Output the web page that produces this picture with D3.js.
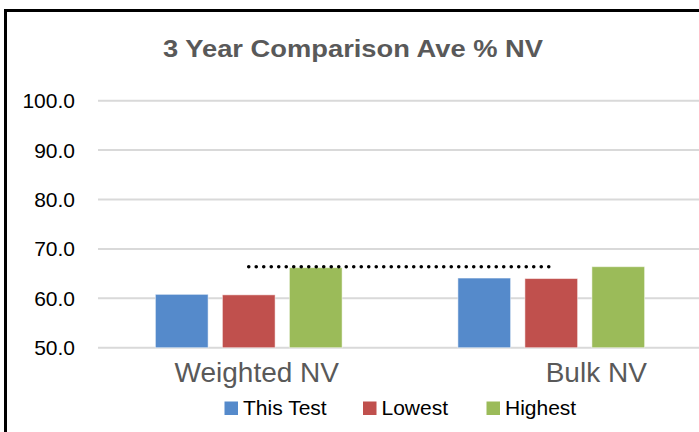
<!DOCTYPE html>
<html>
<head>
<meta charset="utf-8">
<script src="https://cdn.jsdelivr.net/npm/d3@7"></script>
<style>
  body { margin: 0; background: #fff; }
  svg { display: block; font-family: "Liberation Sans", Arial, sans-serif; }
</style>
</head>
<body>
<svg id="chart" width="699" height="432"></svg>
<script>
// ---------- data ----------
var categories = ['Weighted NV', 'Bulk NV'];
var seriesNames = ['This Test', 'Lowest', 'Highest'];
var thisTest = [60.8, 64.1];
var lowest = [60.7, 64.0];
var highest = [66.2, 66.4];
var refLine = [66.4, 66.4];          // dotted line across both categories
var yTicks = [50, 60, 70, 80, 90, 100];

var colors = { 'This Test': '#558ACB', 'Lowest': '#C0504D', 'Highest': '#9BBB59' };

var rows = categories.map(function (c, i) {
  return { cat: c, values: [thisTest[i], lowest[i], highest[i]] };
});

// ---------- frame ----------
var svg = d3.select('#chart');

svg.append('rect')
  .attr('x', 5.5).attr('y', 10.5)
  .attr('width', 720).attr('height', 460)
  .attr('fill', 'none').attr('stroke', '#000').attr('stroke-width', 3);

svg.append('text')
  .attr('x', 353).attr('y', 57)
  .attr('text-anchor', 'middle')
  .attr('font-size', 24).attr('font-weight', 'bold')
  .attr('fill', '#595959')
  .attr('textLength', 380).attr('lengthAdjust', 'spacingAndGlyphs')
  .text('3 Year Comparison Ave % NV');

// ---------- scales ----------
var y = d3.scaleLinear().domain([50, 100]).range([347.7, 100.7]);

var x0 = d3.scaleBand().domain(categories).range([97.5, 702.5]).padding(0);
var groupW = 186.7;
var x1 = d3.scaleBand().domain(seriesNames).range([0, groupW]).paddingInner(14.3 / 67).paddingOuter(0);
var groupOff = (x0.bandwidth() - groupW) / 2;

// ---------- gridlines ----------
svg.append('g')
  .selectAll('line')
  .data(yTicks)
  .join('line')
  .attr('x1', 98).attr('x2', 699)
  .attr('y1', function (d) { return y(d); })
  .attr('y2', function (d) { return y(d); })
  .attr('stroke', '#d9d9d9').attr('stroke-width', 2);

// y tick labels
svg.append('g')
  .selectAll('text')
  .data(yTicks)
  .join('text')
  .attr('x', 75)
  .attr('y', function (d) { return y(d) + 7.5; })
  .attr('text-anchor', 'end')
  .attr('font-size', 21)
  .attr('fill', '#000')
  .text(function (d) { return d3.format('.1f')(d); });

// ---------- bars ----------
var groups = svg.append('g')
  .selectAll('g')
  .data(rows)
  .join('g')
  .attr('transform', function (d) { return 'translate(' + (x0(d.cat) + groupOff) + ',0)'; });

groups.selectAll('rect')
  .data(function (d) { return d.values.map(function (v, j) { return { s: seriesNames[j], v: v }; }); })
  .join('rect')
  .attr('x', function (d) { return x1(d.s); })
  .attr('width', x1.bandwidth())
  .attr('y', function (d) { return y(d.v); })
  .attr('height', function (d) { return y(50) - y(d.v); })
  .attr('fill', function (d) { return colors[d.s]; })
  .attr('stroke', '#fff').attr('stroke-opacity', 0.5).attr('stroke-width', 1);

// ---------- dotted reference line ----------
var line = d3.line()
  .x(function (d, i) { return x0(categories[i]) + x0.bandwidth() / 2; })
  .y(function (d) { return y(d); });

svg.append('path')
  .datum(refLine)
  .attr('d', line)
  .attr('fill', 'none')
  .attr('stroke', '#000')
  .attr('stroke-width', 3.6)
  .attr('stroke-linecap', 'round')
  .attr('stroke-dasharray', '0 7.5');

// ---------- category labels ----------
var labelShift = [8, 45];
svg.append('g')
  .selectAll('text')
  .data(categories)
  .join('text')
  .attr('x', function (d, i) { return x0(d) + x0.bandwidth() / 2 + labelShift[i]; })
  .attr('y', 382)
  .attr('text-anchor', 'middle')
  .attr('font-size', 28)
  .attr('fill', '#595959')
  .text(function (d) { return d; });

// ---------- legend ----------
var legendX = [224.5, 363, 486.5];
var legend = svg.append('g')
  .selectAll('g')
  .data(seriesNames)
  .join('g')
  .attr('transform', function (d, i) { return 'translate(' + legendX[i] + ',401.5)'; });

legend.append('rect')
  .attr('width', 13.5).attr('height', 13.5)
  .attr('fill', function (d) { return colors[d]; });

legend.append('text')
  .attr('x', 18.5).attr('y', 13.5)
  .attr('font-size', 21)
  .attr('fill', '#000')
  .text(function (d) { return d; });
</script>
</body>
</html>
